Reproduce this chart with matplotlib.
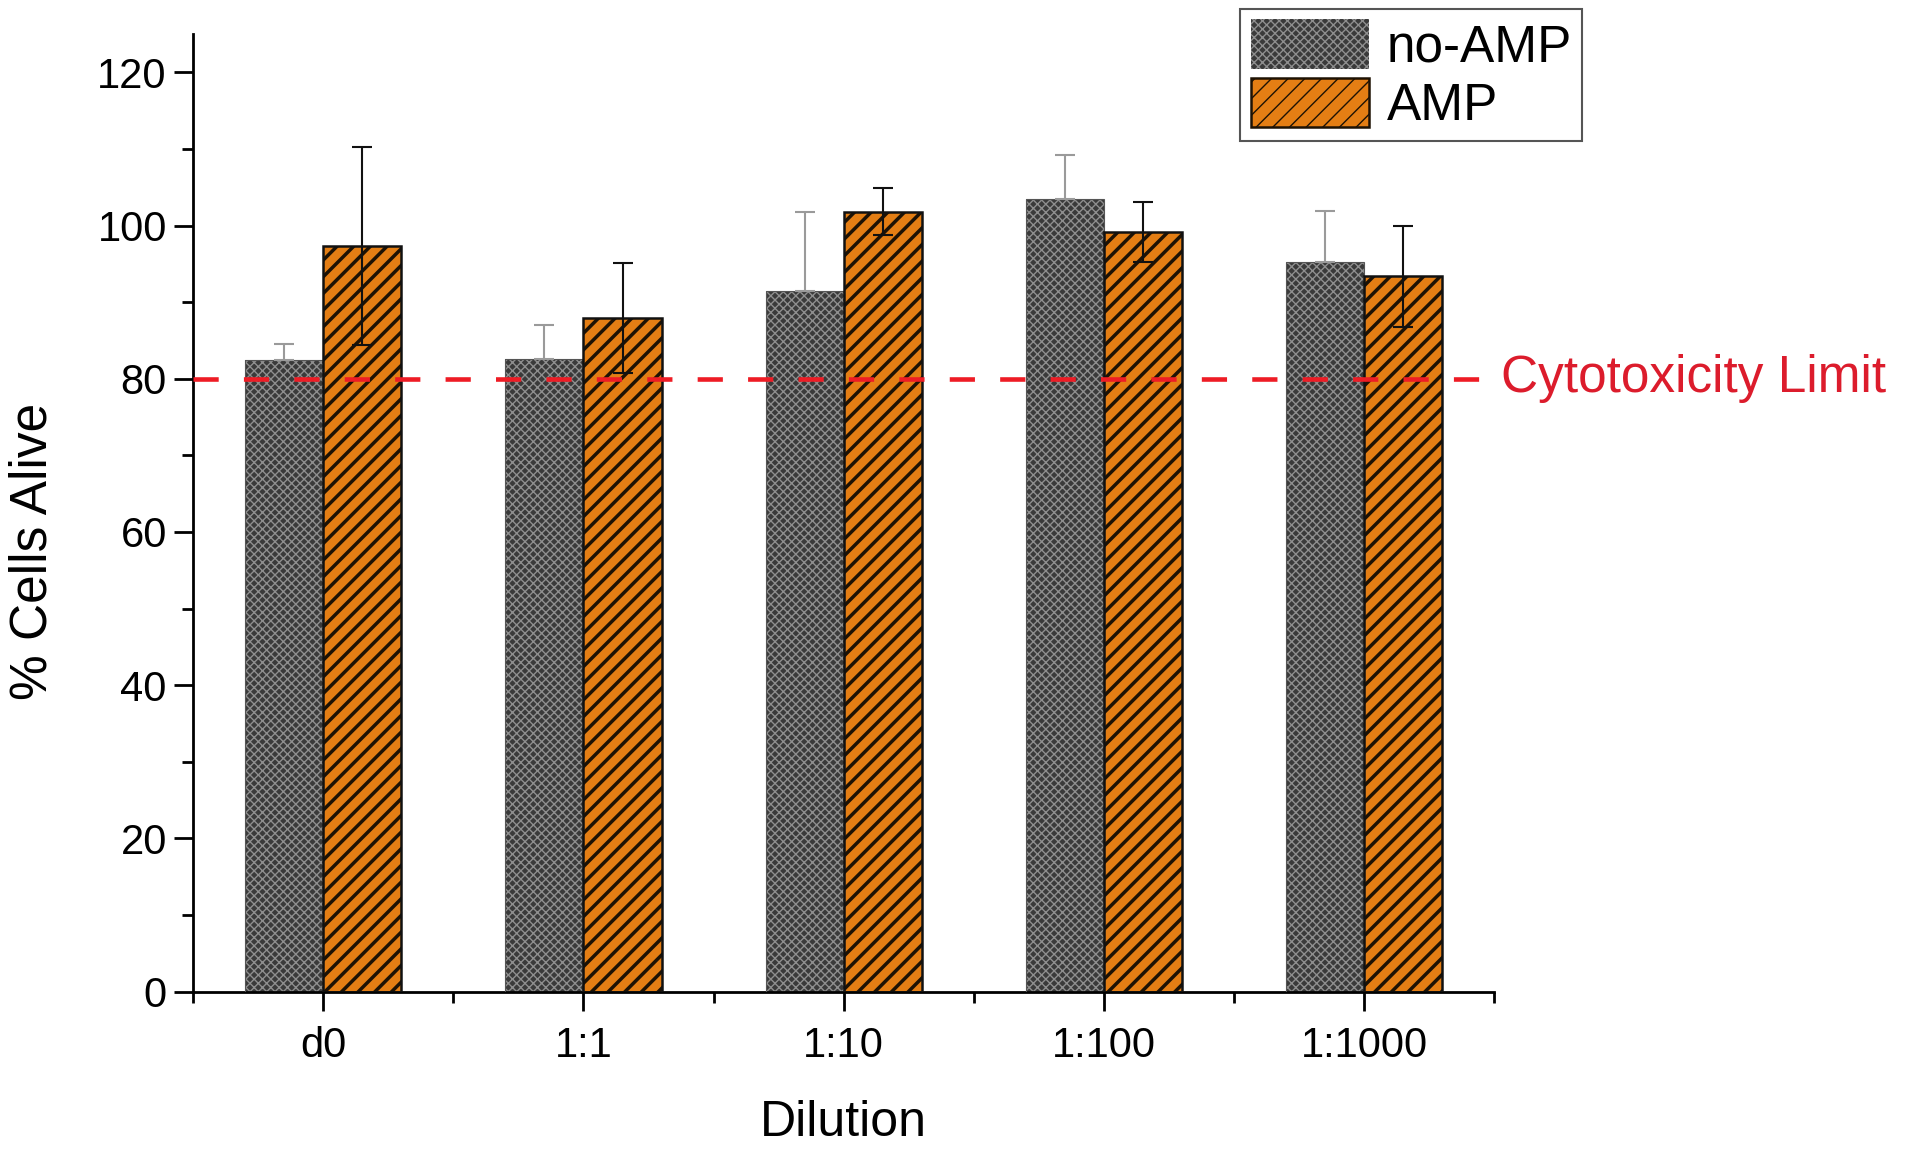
import matplotlib
matplotlib.use('Agg')
import matplotlib.pyplot as plt
import matplotlib.transforms as mtransforms
import numpy as np
from matplotlib.patches import Patch
from matplotlib.ticker import MultipleLocator, FixedLocator

# ---- data ----
categories = ['d0', '1:1', '1:10', '1:100', '1:1000']
no_amp = [82.5, 82.6, 91.5, 103.5, 95.2]
no_amp_err = [2.0, 4.4, 10.2, 5.7, 6.7]
amp = [97.3, 87.9, 101.8, 99.2, 93.4]
amp_err = [12.9, 7.2, 3.1, 3.9, 6.6]
series_labels = ['no-AMP', 'AMP']
limit_value = 80
limit_label = 'Cytotoxicity Limit'
y_ticks = [0, 20, 40, 60, 80, 100, 120]

plt.rcParams['font.family'] = ['Liberation Sans', 'DejaVu Sans']

fig = plt.figure(figsize=(19.17, 11.51), dpi=100)
ax = fig.add_axes([0.1008, 0.1384, 0.6786, 0.8321])

x = np.arange(len(categories))
w = 0.3

GRAY_FILL = '#3a3a3a'
GRAY_HATCH = '#8e8e8e'
ORANGE_FILL = '#E47E14'
ORANGE_HATCH = '#1e1204'


def hatched_bars(xpos, vals, fill, hatch, hcolor, hlw, ecolor, elw):
    with plt.rc_context({'hatch.linewidth': hlw}):
        ax.bar(xpos, vals, w, color=fill, edgecolor=hcolor, hatch=hatch,
               linewidth=0, zorder=2)
    if elw > 0:
        ax.bar(xpos, vals, w, facecolor='none', edgecolor=ecolor,
               linewidth=elw, zorder=3)


hatched_bars(x - w / 2, no_amp, GRAY_FILL, 'xxxx', GRAY_HATCH, 1.0, '#555555', 0.8)
hatched_bars(x + w / 2, amp, ORANGE_FILL, '//', ORANGE_HATCH, 2.5, '#111111', 1.8)

ax.errorbar(x - w / 2, no_amp, yerr=[np.zeros(len(no_amp)), no_amp_err], fmt='none',
            ecolor='#9a9a9a', elinewidth=1.5, capsize=7, capthick=1.5, zorder=4)
ax.errorbar(x + w / 2, amp, yerr=amp_err, fmt='none',
            ecolor='#111111', elinewidth=1.5, capsize=7, capthick=1.5, zorder=4)

ax.axhline(limit_value, color='#ee1c25', lw=3.3, dashes=(5.5, 5.5), zorder=5)
trans = mtransforms.blended_transform_factory(ax.transAxes, ax.transData)
ax.text(1.005, limit_value, limit_label, transform=trans, color='#dc1c2c',
        fontsize=37, va='center', ha='left', clip_on=False)

ax.set_xlim(-0.5, 4.5)
ax.set_ylim(0, 125)
ax.set_xticks(x, categories)
ax.xaxis.set_minor_locator(FixedLocator([-0.5, 0.5, 1.5, 2.5, 3.5, 4.5]))
ax.set_yticks(y_ticks)
ax.yaxis.set_minor_locator(MultipleLocator(10))

for s in ['top', 'right']:
    ax.spines[s].set_visible(False)
for s in ['left', 'bottom']:
    ax.spines[s].set_linewidth(2.0)

ax.tick_params(axis='x', which='major', length=14, width=2, direction='out',
               pad=11, labelsize=30)
ax.tick_params(axis='x', which='minor', length=8, width=2, direction='out')
ax.tick_params(axis='y', which='major', length=14, width=2, direction='out',
               pad=5, labelsize=30)
ax.tick_params(axis='y', which='minor', length=8, width=2, direction='out')

ax.set_ylabel('% Cells Alive', fontsize=37)
ax.yaxis.set_label_coords(-0.104, 0.46)
ax.set_xlabel('Dilution', fontsize=36, labelpad=24)

with plt.rc_context({'hatch.linewidth': 1.0}):
    h1 = Patch(facecolor=GRAY_FILL, edgecolor=GRAY_HATCH, hatch='xxxx', linewidth=0)
with plt.rc_context({'hatch.linewidth': 2.5}):
    h2 = Patch(facecolor=ORANGE_FILL, edgecolor=ORANGE_HATCH, hatch='//', linewidth=1.8)

leg = fig.legend([h1, h2], series_labels, loc='upper left',
                 bbox_to_anchor=(0.647, 0.992), fontsize=37, frameon=True,
                 fancybox=False, edgecolor='#555555', framealpha=1,
                 handlelength=2.3, handleheight=1.1, labelspacing=0.1,
                 handletextpad=0.35, borderpad=0.2, borderaxespad=0)
leg.get_frame().set_linewidth(1.5)

fig.savefig('out.png', dpi=100)
